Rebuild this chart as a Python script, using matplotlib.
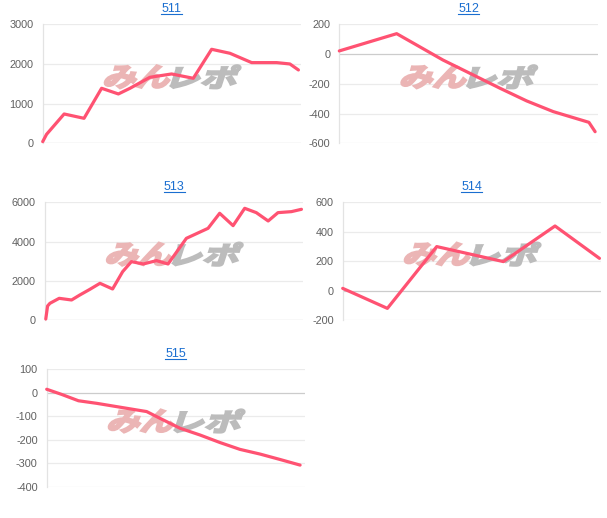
import matplotlib
matplotlib.use("Agg")
import matplotlib.pyplot as plt
from matplotlib.textpath import TextPath
from matplotlib.patches import PathPatch
from matplotlib.font_manager import FontProperties
from matplotlib.transforms import Affine2D
from matplotlib.lines import Line2D

plt.rcParams['font.family'] = ['Liberation Sans', 'DejaVu Sans']

# ---- data (x = position along the axis, 0..100) ----
titles = ["511", "512", "513", "514", "515"]

x511 = [0, 1.5, 8.3, 16.0, 22.8, 29.3, 33.8, 41.5, 49.9, 58.3, 65.4, 72.5, 80.9, 90.6, 95.7, 99.0]
y511 = [42, 227, 739, 630, 1387, 1244, 1387, 1664, 1748, 1639, 2370, 2269, 2034, 2034, 2000, 1849]

x512 = [0, 22.2, 29.9, 40.1, 51.9, 62.2, 72.5, 82.8, 96.6, 99.0]
y512 = [21, 137, 61, -40, -141, -230, -315, -387, -459, -522]

x513 = [0.3, 1.0, 1.9, 5.5, 10.3, 13.5, 17.4, 21.3, 26.2, 30.1, 33.5, 38.1, 43.2, 47.7,
        54.8, 63.2, 67.7, 72.9, 77.4, 81.9, 86.5, 90.3, 95.5, 99.4]
y513 = [51, 714, 850, 1105, 1020, 1275, 1564, 1870, 1581, 2465, 2975, 2856, 3026, 2856,
        4164, 4674, 5440, 4810, 5694, 5473, 5048, 5473, 5524, 5643]

x514 = [0, 17.3, 36.4, 62.2, 82.2, 99.4]
y514 = [15, -121, 299, 197, 439, 219]

x515 = [0, 5.8, 12.3, 19.4, 27.1, 34.8, 38.7, 43.9, 51.6, 59.4, 67.1, 74.8, 82.6, 90.3, 98.1]
y515 = [15, -7, -34, -45, -59, -73, -80, -109, -151, -180, -212, -241, -261, -284, -308]

ylims = [(0, 3000), (-600, 200), (0, 6000), (-200, 600), (-400, 100)]
yticks = [[0, 1000, 2000, 3000], [-600, -400, -200, 0, 200], [0, 2000, 4000, 6000],
          [-200, 0, 200, 400, 600], [-400, -300, -200, -100, 0, 100]]
series = [(x511, y511), (x512, y512), (x513, y513), (x514, y514), (x515, y515)]

# plot boxes in image pixels: left, right, top, bottom
boxes = [(42.7, 301, 24.3, 143.3), (339.3, 597.7, 24.3, 143.3),
         (45, 303, 202.3, 320), (342.7, 601, 202.3, 320),
         (46.7, 305, 369.3, 486.7)]

W, H = 607, 518
fig = plt.figure(figsize=(W / 100, H / 100), dpi=100)
fig.patch.set_facecolor("white")

wm_font = FontProperties(family="Noto Sans CJK JP", weight="bold")


def watermark(ax, cx, cy):
    # cx, cy in display pixels (origin bottom-left)
    parts = [("みん", "#ebb5b5", 0, 64), ("レポ", "#bcbcbc", 67, 64)]
    left = cx - 66
    for txt, col, off, w in parts:
        tp = TextPath((0, 0), txt, size=20, prop=wm_font)
        ext = tp.get_extents()
        tr = (Affine2D().translate(-ext.x0, -ext.y0)
              .scale(w / ext.width, 23 / ext.height)
              .skew_deg(18, 0)
              .translate(left + off - 3, cy - 11.5))
        p = PathPatch(tp, transform=tr, facecolor=col, edgecolor=col, lw=1.6,
                      joinstyle="miter", zorder=1, clip_on=False)
        ax.add_patch(p)


for i, (title, (xs, ys), yl, yt, box) in enumerate(zip(titles, series, ylims, yticks, boxes)):
    l, r, t, b = box
    ax = fig.add_axes([l / W, 1 - b / H, (r - l) / W, (b - t) / H])
    ax.set_facecolor("none")
    ax.plot(xs, ys, color="#ff5272", lw=2.3, zorder=3, solid_joinstyle="round",
            solid_capstyle="round", clip_on=False)
    ax.set_xlim(0, 100)
    ax.set_ylim(*yl)
    ax.set_yticks(yt)
    ax.set_yticklabels([str(v) for v in yt])
    ax.set_xticks([])
    for v in yt:
        c = "#cccccc" if v == 0 else "#ebebeb"
        ax.axhline(v, color=c, lw=0.9, zorder=0.5)
    for s in ["top", "right", "bottom"]:
        ax.spines[s].set_visible(False)
    ax.spines["left"].set_color("#e3e3e3")
    ax.spines["left"].set_linewidth(0.9)
    ax.tick_params(axis="y", length=0, pad=6.5, labelsize=7.8, labelcolor="#606060")

    cx = (l + r) / 2
    cy = H - ((t + b) / 2 - 7)
    watermark(ax, cx, cy)

    # underlined blue title
    ty = t - 15
    fig.text(cx / W, 1 - ty / H, title, ha="center", va="center",
             fontsize=9, color="#1a6ed0")
    fig.add_artist(Line2D([(cx - 10.5) / W, (cx + 10.5) / W],
                          [1 - (ty + 5) / H, 1 - (ty + 5) / H],
                          color="#1a6ed0", lw=0.8))

fig.savefig("out.png", dpi=100)
